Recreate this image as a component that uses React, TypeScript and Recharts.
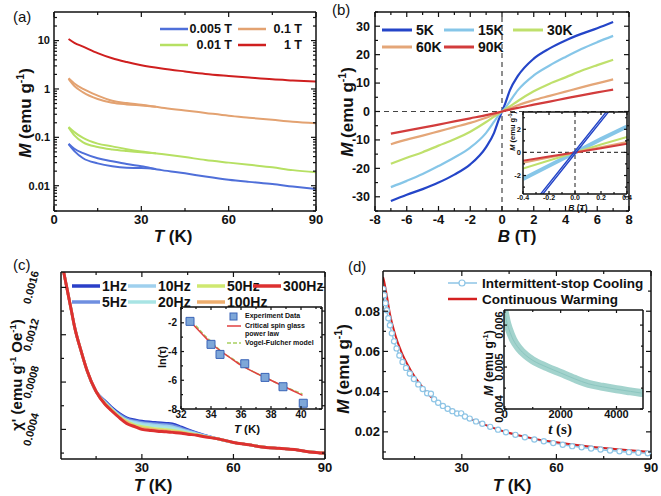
import React from "react"
import { ComposedChart, Line, Scatter, XAxis, YAxis, ReferenceLine } from "recharts"

const FONT = "Arial, 'Liberation Sans', Helvetica, sans-serif"
const INK = "#111"

// ---------- (a) M vs T, log scale ----------
const aTemp = [5, 7, 10, 15, 20, 25, 30, 37, 45, 52, 60, 67, 75, 82, 90]
const aTempZfc = [5, 7, 10, 15, 20, 25, 30, 35]
const m005Fc = [0.074, 0.058, 0.047, 0.037, 0.032, 0.028, 0.0252, 0.021, 0.018, 0.0155, 0.0133, 0.012, 0.0108, 0.0096, 0.0085]
const m005Zfc = [0.072, 0.052, 0.037, 0.029, 0.0252, 0.0235, 0.0232, 0.0222]
const m001Fc = [0.164, 0.128, 0.097, 0.074, 0.065, 0.057, 0.051, 0.045, 0.039, 0.034, 0.03, 0.027, 0.024, 0.021, 0.019]
const m001Zfc = [0.16, 0.11, 0.079, 0.063, 0.056, 0.052, 0.049, 0.047]
const m01Fc = [1.66, 1.3, 1.0, 0.73, 0.57, 0.51, 0.47, 0.41, 0.36, 0.32, 0.28, 0.255, 0.23, 0.21, 0.195]
const m01Zfc = [1.62, 1.15, 0.85, 0.62, 0.52, 0.48, 0.455, 0.43]
const m1T = [10.8, 9.0, 7.5, 5.5, 4.3, 3.6, 3.1, 2.65, 2.3, 2.05, 1.86, 1.72, 1.58, 1.5, 1.42]
const aFields = ["0.005 T", "0.1 T", "0.01 T", "1 T"]
const aColors = ["#4f6fd9", "#e3a271", "#b6e063", "#cf1f1f"]
const aXMajor = [0, 30, 60, 90]
const aXMinor = [15, 45, 75]
const aYMajor = [0.01, 0.1, 1, 10]
const aYMinor = [0.003, 0.004, 0.005, 0.006, 0.007, 0.008, 0.009, 0.02, 0.03, 0.04, 0.05, 0.06, 0.07, 0.08, 0.09,
  0.2, 0.3, 0.4, 0.5, 0.6, 0.7, 0.8, 0.9, 2, 3, 4, 5, 6, 7, 8, 9, 20, 30]

// ---------- (b) M vs B ----------
const bField = [-7, -6, -5, -4, -3, -2, -1, -0.5, -0.2, 0, 0.2, 0.5, 1, 2, 3, 4, 5, 6, 7]
const m5K = [-31.5, -29.3, -27.3, -25, -22.2, -18.6, -12.5, -7.5, -2.8, 0, 2.8, 7.5, 12.5, 18.6, 22.2, 25, 27.3, 29.3, 31.5]
const m15K = [-26.6, -24.4, -22, -19.2, -16.2, -12.7, -7.5, -3.6, -1.2, 0, 1.2, 3.6, 7.5, 12.7, 16.2, 19.2, 22, 24.4, 26.6]
const m30K = [-18.4, -16.3, -14.3, -12, -9.8, -7.1, -3.7, -1.8, -0.7, 0, 0.7, 1.8, 3.7, 7.1, 9.8, 12, 14.3, 16.3, 18.2]
const m60K = [-11.5, -9.9, -8.5, -7, -5.5, -4.0, -2.2, -1.1, -0.45, 0, 0.45, 1.1, 2.2, 4.0, 5.5, 7, 8.5, 9.9, 11.3]
const m90K = [-7.8, -6.7, -5.7, -4.6, -3.5, -2.4, -1.3, -0.68, -0.3, 0, 0.3, 0.68, 1.3, 2.4, 3.5, 4.6, 5.7, 6.7, 7.7]
const bNames = ["5K", "15K", "30K", "60K", "90K"]
const bColors = ["#2445c8", "#86c6e8", "#bfe06c", "#e4a678", "#d23c3c"]
const bXMajor = [-8, -6, -4, -2, 0, 2, 4, 6, 8]
const bXMinor = [-7, -5, -3, -1, 1, 3, 5, 7]
const bYMajor = [-30, -20, -10, 0, 10, 20, 30]
const bYMinor = [-35, -25, -15, -5, 5, 15, 25, 35]

// (b) inset, low field
const insField = [-0.4, -0.2, 0, 0.2, 0.4]
const ins15K = [-2.3, -1.15, 0, 1.15, 2.25]
const ins30K = [-1.4, -0.7, 0, 0.68, 1.33]
const ins60K = [-0.9, -0.45, 0, 0.45, 0.9]
const ins90K = [-0.72, -0.36, 0, 0.37, 0.75]
const ins5KField = [-0.3, 0, 0.3]
const ins5KUp = [-4.35, -0.12, 4.1]
const ins5KDown = [-4.1, 0.12, 4.35]

// ---------- (c) chi' vs T ----------
const chiTempLow = [4, 5, 6, 7, 8, 10, 12, 15]
const chiLow = [0.00178, 0.00165, 0.00152, 0.00139, 0.00126, 0.00107, 0.0009, 0.00072]
const chiTempMid = [18, 20, 23, 25, 28, 30, 33, 35, 38, 40, 43, 45, 48, 50]
const chi1Hz = [0.00064, 0.00059, 0.00053, 0.0005, 0.00048, 0.00047, 0.000462, 0.000458, 0.000452, 0.000448, 0.00042, 0.0004, 0.000372, 0.000355]
const chi5Hz = [0.00063, 0.00058, 0.00052, 0.00049, 0.00047, 0.00046, 0.000452, 0.000448, 0.000442, 0.000435, 0.00041, 0.000392, 0.000368, 0.000352]
const chi10Hz = [0.00063, 0.00058, 0.00051, 0.00048, 0.00046, 0.00045, 0.000442, 0.000436, 0.00043, 0.000422, 0.0004, 0.000385, 0.000364, 0.00035]
const chi20Hz = [0.00062, 0.00057, 0.000505, 0.000475, 0.00045, 0.00044, 0.00043, 0.000424, 0.000416, 0.00041, 0.000392, 0.000378, 0.00036, 0.000347]
const chi50Hz = [0.00062, 0.00057, 0.0005, 0.00047, 0.000435, 0.000425, 0.000412, 0.000405, 0.000398, 0.000393, 0.00038, 0.00037, 0.000356, 0.000345]
const chi100Hz = [0.00061, 0.00056, 0.000495, 0.000462, 0.000425, 0.000412, 0.0004, 0.000395, 0.000388, 0.000383, 0.000373, 0.000365, 0.000353, 0.000343]
const chi300Hz = [0.00061, 0.00056, 0.00049, 0.00045, 0.00042, 0.0004, 0.00039, 0.000385, 0.00038, 0.000375, 0.000368, 0.00036, 0.00035, 0.00034]
const chiTempHigh = [55, 60, 65, 70, 75, 80, 85, 90]
const chiHigh = [0.00032, 0.00029, 0.00027, 0.00025, 0.00024, 0.00023, 0.00021, 0.0002]
const freqNames = ["1Hz", "5Hz", "10Hz", "20Hz", "50Hz", "100Hz", "300Hz"]
const freqColors = ["#2a3fc8", "#6f8fe0", "#9fd0ee", "#a8e4e4", "#cfe870", "#eeae6e", "#dd3030"]
const freqLegendOrder = [0, 2, 4, 6, 1, 3, 5]
const cXMajor = [30, 60, 90]
const cXMinor = [15, 45, 75]
const cYMajor = [0.0004, 0.0008, 0.0012, 0.0016]
const cYMinor = [0.0002, 0.0006, 0.001, 0.0014]

// (c) inset, ln(tau) vs T
const tauTemp = [32.6, 34.0, 34.6, 36.25, 37.6, 38.8, 40.15]
const lnTau = [-1.9, -3.5, -4.2, -4.85, -5.8, -6.45, -7.6]
const powerTemp = [32.6, 33.2, 33.7, 34.2, 34.7, 35.3, 36, 36.7, 37.4, 38.1, 38.8, 39.5, 40.1]
const powerFit = [-1.9, -2.55, -3.1, -3.6, -4.0, -4.45, -4.95, -5.35, -5.7, -6.05, -6.4, -6.75, -7.05]
const vfTemp = [33.0, 33.5, 34, 34.7, 35.5, 36.3, 37, 37.8, 38.6, 39.4, 40.1]
const vfFit = [-2.2, -2.8, -3.3, -4.0, -4.55, -5.1, -5.5, -5.9, -6.3, -6.65, -6.95]

// ---------- (d) memory effect ----------
const warmTemp = [5, 5.3, 6.2, 7.2, 8.8, 10.9, 13.6, 16.8, 19.9, 23.1, 26.5, 30, 35.8, 43.2, 51.7, 60, 69.7, 80.3, 90]
const warmM = [0.097, 0.0953, 0.0878, 0.0787, 0.0687, 0.0595, 0.0512, 0.0437, 0.0378, 0.0342, 0.031, 0.0283, 0.0245, 0.0203, 0.017, 0.0148, 0.0128, 0.0112, 0.01]
const coolTemp = [5.1, 5.4, 5.8, 6.2, 6.7, 7.2, 7.8, 8.5, 9.3, 10.2, 11.2, 12.3, 13.5, 14.8, 16.2, 17.6, 19, 20.2, 21.2, 22.5,
  24, 25.5, 27, 28.5, 29.8, 31, 32.5, 34.5, 36.5, 39, 41.5, 44, 47, 50, 53, 56, 59, 62, 65, 68, 71, 74, 77, 80, 83, 86, 89]
const coolM = [0.091, 0.088, 0.084, 0.0805, 0.0765, 0.073, 0.069, 0.065, 0.0615, 0.058, 0.0548, 0.0518, 0.049, 0.0463, 0.0436, 0.0413, 0.0392, 0.039, 0.0362, 0.0345,
  0.0329, 0.0315, 0.0303, 0.0291, 0.0292, 0.0276, 0.0266, 0.0252, 0.024, 0.0225, 0.0211, 0.0198, 0.0185, 0.0173, 0.0162, 0.0153, 0.0144, 0.0136, 0.0129, 0.0123,
  0.0117, 0.0112, 0.0107, 0.0103, 0.0099, 0.0096, 0.0093]
const dXMajor = [30, 60, 90]
const dXMinor = [15, 45, 75]
const dYMajor = [0.02, 0.04, 0.06, 0.08]
const dYMinor = [0.01, 0.03, 0.05, 0.07, 0.09]

// (d) inset, relaxation
const relaxTime = [0, 60, 150, 300, 500, 750, 1000, 1500, 2000, 2500, 3000, 3500, 4000, 4500, 4900]
const relaxM = [0.0063, 0.0061, 0.0059, 0.00565, 0.00545, 0.00528, 0.00516, 0.005, 0.00486, 0.00472, 0.0046, 0.00453, 0.00447, 0.00442, 0.00438]

const pts = (xs: number[], ys: number[]) => xs.map((x, i) => ({ x, y: ys[i] }))

type Side = "left" | "right" | "top" | "bottom"

interface TickOpts {
  side: Side
  majors: number[]
  fmt?: (v: number) => string
  fontSize?: number
  len?: number
  minorLen?: number
  gap?: number
  angle?: number
}

function makeTick({ side, majors, fmt, fontSize = 12, len = 5, minorLen = 3, gap = 4, angle = 0 }: TickOpts) {
  const dir = { left: [1, 0], right: [-1, 0], top: [0, 1], bottom: [0, -1] }[side]
  return function AxisTick(props: any) {
    const { x, y, payload } = props
    const v = Number(payload.value)
    const major = majors.some((m) => Math.abs(m - v) < 1e-12 + Math.abs(m) * 1e-6)
    const l = major ? len : minorLen
    const label = major && fmt ? fmt(v) : null
    const txt = { fontSize, fontWeight: "bold" as const, fontFamily: FONT, fill: INK }
    let text = null
    if (label !== null && side === "left") {
      text = angle ? (
        <text x={x - gap} y={y} dy="0.35em" textAnchor="middle" transform={`rotate(${angle} ${x - gap} ${y})`} {...txt}>
          {label}
        </text>
      ) : (
        <text x={x - gap} y={y} dy="0.35em" textAnchor="end" {...txt}>{label}</text>
      )
    }
    if (label !== null && side === "bottom") {
      text = <text x={x} y={y + gap} dy="0.72em" textAnchor="middle" {...txt}>{label}</text>
    }
    return (
      <g>
        <line x1={x} y1={y} x2={x + dir[0] * l} y2={y + dir[1] * l} stroke={INK} strokeWidth={1.2} />
        {text}
      </g>
    )
  }
}

const axisLine = { stroke: INK, strokeWidth: 1.5 }
const bare = { tickSize: 0, tickMargin: 0, tickLine: false, interval: 0 as const, axisLine, allowDataOverflow: true }

// plot box in chart coordinates -> margins (every axis is 1px thick)
const box = (w: number, h: number, l: number, t: number, r: number, b: number) => ({
  top: t - 1, left: l - 1, right: w - r - 1, bottom: h - b - 1,
})

// four sides of a framed plot
function frameAxes(o: {
  xDomain: [number, number]
  yDomain: [number, number]
  xMajor: number[]
  xMinor: number[]
  yMajor: number[]
  yMinor: number[]
  xFmt?: (v: number) => string
  yFmt?: (v: number) => string
  xSize?: number
  ySize?: number
  xGap?: number
  yGap?: number
  yAngle?: number
  yLog?: boolean
  len?: number
  minorLen?: number
}) {
  const xt = [...o.xMajor, ...o.xMinor].sort((a, b) => a - b)
  const yt = [...o.yMajor, ...o.yMinor].sort((a, b) => a - b)
  const len = o.len ?? 5
  const minorLen = o.minorLen ?? 3
  const yScale = o.yLog ? ("log" as const) : ("auto" as const)
  return [
    <XAxis key="xb" xAxisId="b" dataKey="x" type="number" domain={o.xDomain} ticks={xt} height={1} {...bare}
      tick={makeTick({ side: "bottom", majors: o.xMajor, fmt: o.xFmt, fontSize: o.xSize, gap: o.xGap, len, minorLen })} />,
    <XAxis key="xt" xAxisId="t" orientation="top" dataKey="x" type="number" domain={o.xDomain} ticks={xt} height={1} {...bare}
      tick={makeTick({ side: "top", majors: o.xMajor, len, minorLen })} />,
    <YAxis key="yl" yAxisId="l" dataKey="y" type="number" scale={yScale} domain={o.yDomain} ticks={yt} width={1} {...bare}
      tick={makeTick({ side: "left", majors: o.yMajor, fmt: o.yFmt, fontSize: o.ySize, gap: o.yGap, angle: o.yAngle, len, minorLen })} />,
    <YAxis key="yr" yAxisId="r" orientation="right" dataKey="y" type="number" scale={yScale} domain={o.yDomain} ticks={yt} width={1} {...bare}
      tick={makeTick({ side: "right", majors: o.yMajor, len, minorLen })} />,
  ]
}

const lineBase = { xAxisId: "b", yAxisId: "l", dataKey: "y", dot: false, isAnimationActive: false, activeDot: false as const }

function PanelA() {
  const series = [
    { d: pts(aTemp, m005Fc), c: aColors[0] },
    { d: pts(aTempZfc, m005Zfc), c: aColors[0] },
    { d: pts(aTemp, m01Fc), c: aColors[1] },
    { d: pts(aTempZfc, m01Zfc), c: aColors[1] },
    { d: pts(aTemp, m001Fc), c: aColors[2] },
    { d: pts(aTempZfc, m001Zfc), c: aColors[2] },
    { d: pts(aTemp, m1T), c: aColors[3] },
  ]
  return (
    <ComposedChart width={330} height={245} margin={box(330, 245, 54, 12, 316, 211)}>
      {frameAxes({
        xDomain: [0, 90], yDomain: [0.003, 39], xMajor: aXMajor, xMinor: aXMinor, yMajor: aYMajor, yMinor: aYMinor,
        xFmt: String, yFmt: String, xSize: 13, ySize: 11, xGap: 4, yGap: 4, yLog: true,
      })}
      {series.map((s, i) => (
        <Line key={i} {...lineBase} data={s.d} type="monotone" stroke={s.c} strokeWidth={2} />
      ))}
    </ComposedChart>
  )
}

function PanelB() {
  const ys = [m5K, m15K, m30K, m60K, m90K]
  return (
    <ComposedChart width={331} height={245} margin={box(331, 245, 45, 12, 299, 211)}>
      {frameAxes({
        xDomain: [-8, 8], yDomain: [-35, 35], xMajor: bXMajor, xMinor: bXMinor, yMajor: bYMajor, yMinor: bYMinor,
        xFmt: String, yFmt: String, xSize: 13, ySize: 12.5, xGap: 4, yGap: 5,
      })}
      <ReferenceLine xAxisId="b" yAxisId="l" x={0} stroke="#444" strokeDasharray="5 4" strokeWidth={1.2} />
      <ReferenceLine xAxisId="b" yAxisId="l" y={0} stroke="#444" strokeDasharray="5 4" strokeWidth={1.2} />
      {ys.map((y, i) => (
        <Line key={i} {...lineBase} data={pts(bField, y)} type="monotone" stroke={bColors[i]} strokeWidth={2.2} />
      ))}
    </ComposedChart>
  )
}

function InsetB() {
  const ys = [ins15K, ins30K, ins60K, ins90K]
  const widths = [4, 2, 2, 2]
  return (
    <ComposedChart width={140} height={115} margin={box(140, 115, 23, 12, 127, 94)}>
      {frameAxes({
        xDomain: [-0.4, 0.4], yDomain: [-3.6, 3.5], xMajor: [-0.4, -0.2, 0, 0.2, 0.4], xMinor: [-0.3, -0.1, 0.1, 0.3],
        yMajor: [-2, 0, 2], yMinor: [-3, -1, 1, 3], xFmt: (v) => v.toFixed(1), yFmt: String,
        xSize: 7, ySize: 7.5, xGap: 1, yGap: 2, len: 3, minorLen: 2,
      })}
      <ReferenceLine xAxisId="b" yAxisId="l" x={0} stroke="#444" strokeDasharray="4 3" strokeWidth={1.2} />
      <ReferenceLine xAxisId="b" yAxisId="l" y={0} stroke="#444" strokeDasharray="4 3" strokeWidth={1.2} />
      {ys.map((y, i) => (
        <Line key={i} {...lineBase} data={pts(insField, y)} type="linear" stroke={bColors[i + 1]} strokeWidth={widths[i]} />
      ))}
      <Line {...lineBase} data={pts(ins5KField, ins5KUp)} type="linear" stroke={bColors[0]} strokeWidth={1.4} />
      <Line {...lineBase} data={pts(ins5KField, ins5KDown)} type="linear" stroke={bColors[0]} strokeWidth={1.4} />
    </ComposedChart>
  )
}

function PanelC() {
  const mids = [chi1Hz, chi5Hz, chi10Hz, chi20Hz, chi50Hz, chi100Hz, chi300Hz]
  const temps = [...chiTempLow, ...chiTempMid, ...chiTempHigh]
  return (
    <ComposedChart width={330} height={246} margin={box(330, 246, 61, 22, 325, 209)}>
      {frameAxes({
        xDomain: [3.5, 90], yDomain: [0.00015, 0.00173], xMajor: cXMajor, xMinor: cXMinor, yMajor: cYMajor, yMinor: cYMinor,
        xFmt: String, yFmt: String, xSize: 13, ySize: 11, xGap: 4, yGap: 30, yAngle: -75,
      })}
      {mids.map((m, i) => (
        <Line key={i} {...lineBase} data={pts(temps, [...chiLow, ...m, ...chiHigh])} type="monotone"
          stroke={freqColors[i]} strokeWidth={i === 6 ? 3 : 2.6} />
      ))}
    </ComposedChart>
  )
}

function InsetC() {
  return (
    <ComposedChart width={180} height={140} margin={box(180, 140, 31, 17, 172, 119)}>
      {frameAxes({
        xDomain: [32, 41.4], yDomain: [-8, -0.9], xMajor: [32, 34, 36, 38, 40], xMinor: [33, 35, 37, 39, 41],
        yMajor: [-8, -6, -4, -2], yMinor: [-7, -5, -3, -1], xFmt: String, yFmt: String,
        xSize: 10, ySize: 10, xGap: 2, yGap: 4, len: 3, minorLen: 2,
      })}
      <Line {...lineBase} data={pts(vfTemp, vfFit)} type="monotone" stroke="#a8d060" strokeWidth={1.5} strokeDasharray="4 2" />
      <Line {...lineBase} data={pts(powerTemp, powerFit)} type="monotone" stroke="#e04040" strokeWidth={1.5} />
      <Scatter xAxisId="b" yAxisId="l" data={pts(tauTemp, lnTau)} shape="square" fill="#7ea7d8" stroke="#3a64b8"
        strokeWidth={1} isAnimationActive={false} />
    </ComposedChart>
  )
}

function PanelD() {
  return (
    <ComposedChart width={331} height={246} margin={box(331, 246, 53, 21, 321, 209)}>
      {frameAxes({
        xDomain: [5, 90], yDomain: [0.0065, 0.1], xMajor: dXMajor, xMinor: dXMinor, yMajor: dYMajor, yMinor: dYMinor,
        xFmt: String, yFmt: String, xSize: 13, ySize: 13, xGap: 4, yGap: 3,
      })}
      <Line {...lineBase} data={pts(coolTemp, coolM)} type="monotone" stroke="#8ec5e6" strokeWidth={1.5}
        dot={{ r: 2.6, fill: "#fff", stroke: "#8ec5e6", strokeWidth: 1.2 }} />
      <Line {...lineBase} data={pts(warmTemp, warmM)} type="monotone" stroke="#d42020" strokeWidth={2} />
    </ComposedChart>
  )
}

function InsetD() {
  return (
    <ComposedChart width={181} height={140} margin={box(181, 140, 24, 15, 163, 114)}>
      {frameAxes({
        xDomain: [-30, 4950], yDomain: [0.004, 0.00636], xMajor: [0, 2000, 4000], xMinor: [1000, 3000],
        yMajor: [0.004, 0.005, 0.006], yMinor: [0.0045, 0.0055], xFmt: String, yFmt: String,
        xSize: 11, ySize: 11, xGap: 1, yGap: 5, yAngle: -90, len: 3, minorLen: 2,
      })}
      <Line {...lineBase} data={pts(relaxTime, relaxM)} type="monotone" stroke="#a3d3cd" strokeWidth={8} strokeLinecap="round" />
      <Line {...lineBase} data={pts(relaxTime, relaxM)} type="monotone" stroke="#8cc6c0" strokeWidth={1} />
    </ComposedChart>
  )
}

function MTitle({ x, y, size }: { x: number; y: number; size: number }) {
  return (
    <text transform={`translate(${x},${y}) rotate(-90)`} textAnchor="middle" dy="0.35em" fontSize={size} fontWeight="bold">
      <tspan fontStyle="italic">M</tspan> (emu g
      <tspan dy={-size * 0.4} fontSize={size * 0.62}>-1</tspan>
      <tspan dy={size * 0.4}>)</tspan>
    </text>
  )
}

function Overlay() {
  const legendLine = (x: number, y: number, c: string, w: number, len = 29) => (
    <line x1={x} y1={y} x2={x + len} y2={y} stroke={c} strokeWidth={w} />
  )
  return (
    <svg width={661} height={496} style={{ position: "absolute", left: 0, top: 0, pointerEvents: "none" }}
      fontFamily={FONT} fill={INK}>
      {/* panel tags */}
      <text x={13} y={22} fontSize={15}>(a)</text>
      <text x={332} y={15} fontSize={15}>(b)</text>
      <text x={13} y={270} fontSize={15}>(c)</text>
      <text x={348} y={272} fontSize={15}>(d)</text>

      {/* axis titles */}
      <MTitle x={25} y={113} size={17} />
      <text x={173} y={236} textAnchor="middle" dy="0.35em" fontSize={17} fontWeight="bold">
        <tspan fontStyle="italic">T</tspan> (K)
      </text>
      <MTitle x={347} y={112} size={17} />
      <text x={517} y={236} textAnchor="middle" dy="0.35em" fontSize={17} fontWeight="bold">
        <tspan fontStyle="italic">B</tspan> (T)
      </text>
      <text transform="translate(17,375) rotate(-90)" textAnchor="middle" dy="0.35em" fontSize={15} fontWeight="bold">
        χ' (emu g<tspan dy={-6} fontSize={9.5}>-1</tspan><tspan dy={6}> Oe</tspan>
        <tspan dy={-6} fontSize={9.5}>-1</tspan><tspan dy={6}>)</tspan>
      </text>
      <text x={153} y={485} textAnchor="middle" dy="0.35em" fontSize={17} fontWeight="bold">
        <tspan fontStyle="italic">T</tspan> (K)
      </text>
      <MTitle x={343} y={369} size={17} />
      <text x={512} y={485} textAnchor="middle" dy="0.35em" fontSize={17} fontWeight="bold">
        <tspan fontStyle="italic">T</tspan> (K)
      </text>

      {/* inset titles */}
      <MTitle x={512} y={131} size={7.5} />
      <text x={578} y={208} textAnchor="middle" dy="0.35em" fontSize={8.5} fontWeight="bold">
        <tspan fontStyle="italic">B</tspan> (T)
      </text>
      <text transform="translate(162,357) rotate(-90)" textAnchor="middle" dy="0.35em" fontSize={11} fontWeight="bold">
        ln(τ)
      </text>
      <text x={247} y={429} textAnchor="middle" dy="0.35em" fontSize={11.5} fontWeight="bold">
        <tspan fontStyle="italic">T</tspan> (K)
      </text>
      <MTitle x={489} y={363} size={12.5} />
      <text x={560} y={429} textAnchor="middle" dy="0.35em" fontSize={15} fontWeight="bold"
        fontFamily="'Liberation Serif', 'DejaVu Serif', serif">
        <tspan fontStyle="italic">t</tspan> (s)
      </text>

      {/* legend (a) */}
      {aFields.map((name, i) => {
        const col = i % 2
        const row = Math.floor(i / 2)
        const x0 = col === 0 ? 160 : 238
        const y0 = 29 + row * 16
        return (
          <g key={name}>
            {legendLine(x0, y0, aColors[i], 2.5, 28)}
            <text x={col === 0 ? 232 : 302} y={y0} dy="0.35em" textAnchor="end" fontSize={12.5} fontWeight="bold">{name}</text>
          </g>
        )
      })}

      {/* legend (b) */}
      {bNames.map((name, i) => {
        const cols = [382, 444, 513]
        const x0 = cols[i % 3]
        const y0 = 30 + Math.floor(i / 3) * 17
        return (
          <g key={name}>
            {legendLine(x0, y0, bColors[i], 3, 30)}
            <text x={x0 + 34} y={y0} dy="0.35em" fontSize={14} fontWeight="bold">{name}</text>
          </g>
        )
      })}

      {/* legend (c) */}
      {freqLegendOrder.map((k, j) => {
        const cols = [72, 128, 197, 253]
        const x0 = cols[j % 4]
        const y0 = 286 + Math.floor(j / 4) * 16
        return (
          <g key={freqNames[k]}>
            {legendLine(x0, y0, freqColors[k], 3.5, 28)}
            <text x={x0 + 30} y={y0} dy="0.35em" fontSize={14} fontWeight="bold">{freqNames[k]}</text>
          </g>
        )
      })}

      {/* legend (c) inset */}
      <rect x={230} y={313} width={7} height={7} fill="#7ea7d8" stroke="#3a64b8" />
      <text x={245} y={316} dy="0.35em" fontSize={7} fontWeight="bold">Experiment Data</text>
      {legendLine(227, 326, "#e04040", 1.5, 14)}
      <text x={245} y={326} dy="0.35em" fontSize={7} fontWeight="bold">Critical spin glass</text>
      <text x={245} y={333.5} dy="0.35em" fontSize={7} fontWeight="bold">power law</text>
      <line x1={227} y1={343} x2={241} y2={343} stroke="#a8d060" strokeWidth={1.5} strokeDasharray="4 2" />
      <text x={245} y={343} dy="0.35em" fontSize={7} fontWeight="bold">Vogel-Fulcher model</text>

      {/* legend (d) */}
      {legendLine(448, 283, "#8ec5e6", 1.5, 29)}
      <circle cx={462} cy={283} r={3} fill="#fff" stroke="#8ec5e6" strokeWidth={1.2} />
      <text x={482} y={283} dy="0.35em" fontSize={13.5} fontWeight="bold">Intermittent-stop Cooling</text>
      {legendLine(448, 299, "#d42020", 2.5, 29)}
      <text x={482} y={299} dy="0.35em" fontSize={13.5} fontWeight="bold">Continuous Warming</text>
    </svg>
  )
}

const abs = (left: number, top: number): React.CSSProperties => ({ position: "absolute", left, top })
const white = (l: number, t: number, r: number, b: number): React.CSSProperties => ({
  position: "absolute", left: l, top: t, width: r - l, height: b - t, background: "#fff",
})

export default function App() {
  return (
    <div style={{ position: "relative", width: 661, height: 496, background: "#fff", overflow: "hidden", fontFamily: FONT }}>
      <style>{"body{margin:0} .recharts-surface{overflow:visible}"}</style>
      <div style={abs(0, 0)}><PanelA /></div>
      <div style={abs(330, 0)}><PanelB /></div>
      <div style={abs(0, 250)}><PanelC /></div>
      <div style={abs(330, 250)}><PanelD /></div>
      <div style={white(523, 112, 627, 194)} />
      <div style={abs(500, 100)}><InsetB /></div>
      <div style={white(181, 307, 322, 409)} />
      <div style={abs(150, 290)}><InsetC /></div>
      <div style={white(504, 310, 643, 409)} />
      <div style={abs(480, 295)}><InsetD /></div>
      <Overlay />
    </div>
  )
}
